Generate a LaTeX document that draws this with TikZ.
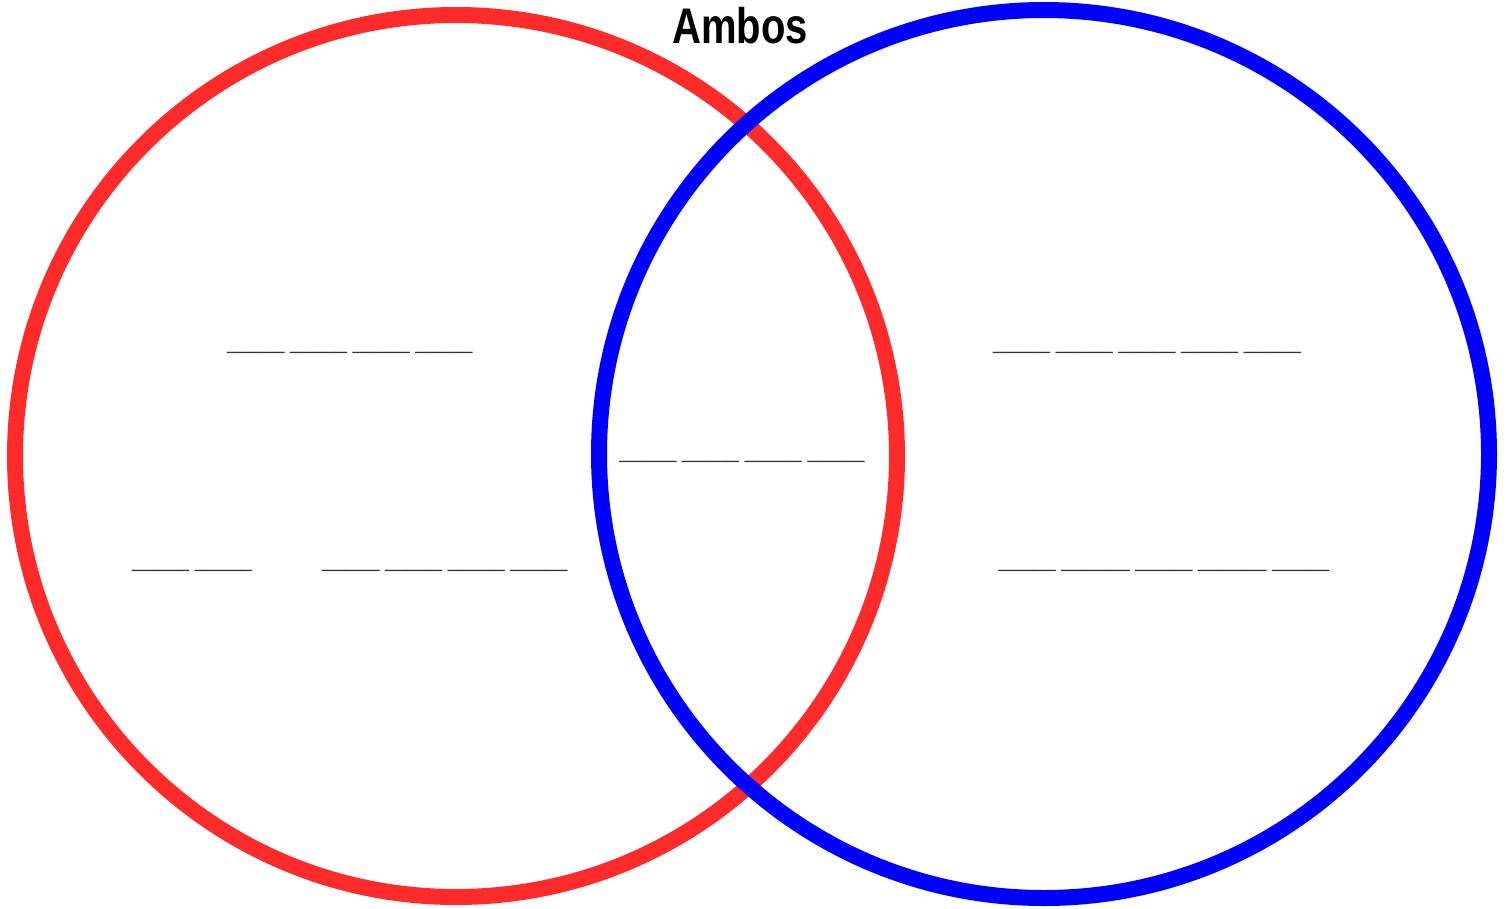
\documentclass[tikz,border=0pt]{standalone}
\usepackage{fontspec}
\setmainfont{Liberation Sans}
\definecolor{vennred}{RGB}{255,42,42}
\definecolor{vennblue}{RGB}{0,0,255}
\tikzset{
    ring/.style={line width=16pt},
    blank/.style={anchor=base, inner sep=0pt, text=black!80, font=\fontsize{20.5}{24}\selectfont},
}
\begin{document}
\begin{tikzpicture}[x=1pt, y=-1pt]
    \useasboundingbox (0,0) rectangle (1512,908);
    % two circles, blue one on top
    \draw[ring, vennred] (456,456) ellipse (441pt and 441pt);
    \draw[ring, vennblue] (1044,454) ellipse (445pt and 444pt);
    % title
    \node[anchor=base, inner sep=0pt, xscale=0.8, font=\bfseries\fontsize{50}{56}\selectfont] (title) at (740,43) {Ambos};
    % left side
    \node[blank] (leftA) at (350,349) {\_\_\_\_\_ \_\_\_\_\_ \_\_\_\_\_ \_\_\_\_\_};
    \node[blank] (leftB) at (192,567) {\_\_\_\_\_ \_\_\_\_\_};
    \node[blank] (leftC) at (445,567) {\_\_\_\_\_ \_\_\_\_\_ \_\_\_\_\_ \_\_\_\_\_};
    % middle
    \node[blank] (both) at (742,458) {\_\_\_\_\_ \_\_\_\_\_ \_\_\_\_\_ \_\_\_\_\_};
    % right side
    \node[blank] (rightA) at (1147,349) {\_\_\_\_\_ \_\_\_\_\_ \_\_\_\_\_ \_\_\_\_\_ \_\_\_\_\_};
    \node[blank] (rightB) at (1164,567) {\_\_\_\_\_ \_\_\_\_\_\_ \_\_\_\_\_ \_\_\_\_\_\_ \_\_\_\_\_};
\end{tikzpicture}
\end{document}
